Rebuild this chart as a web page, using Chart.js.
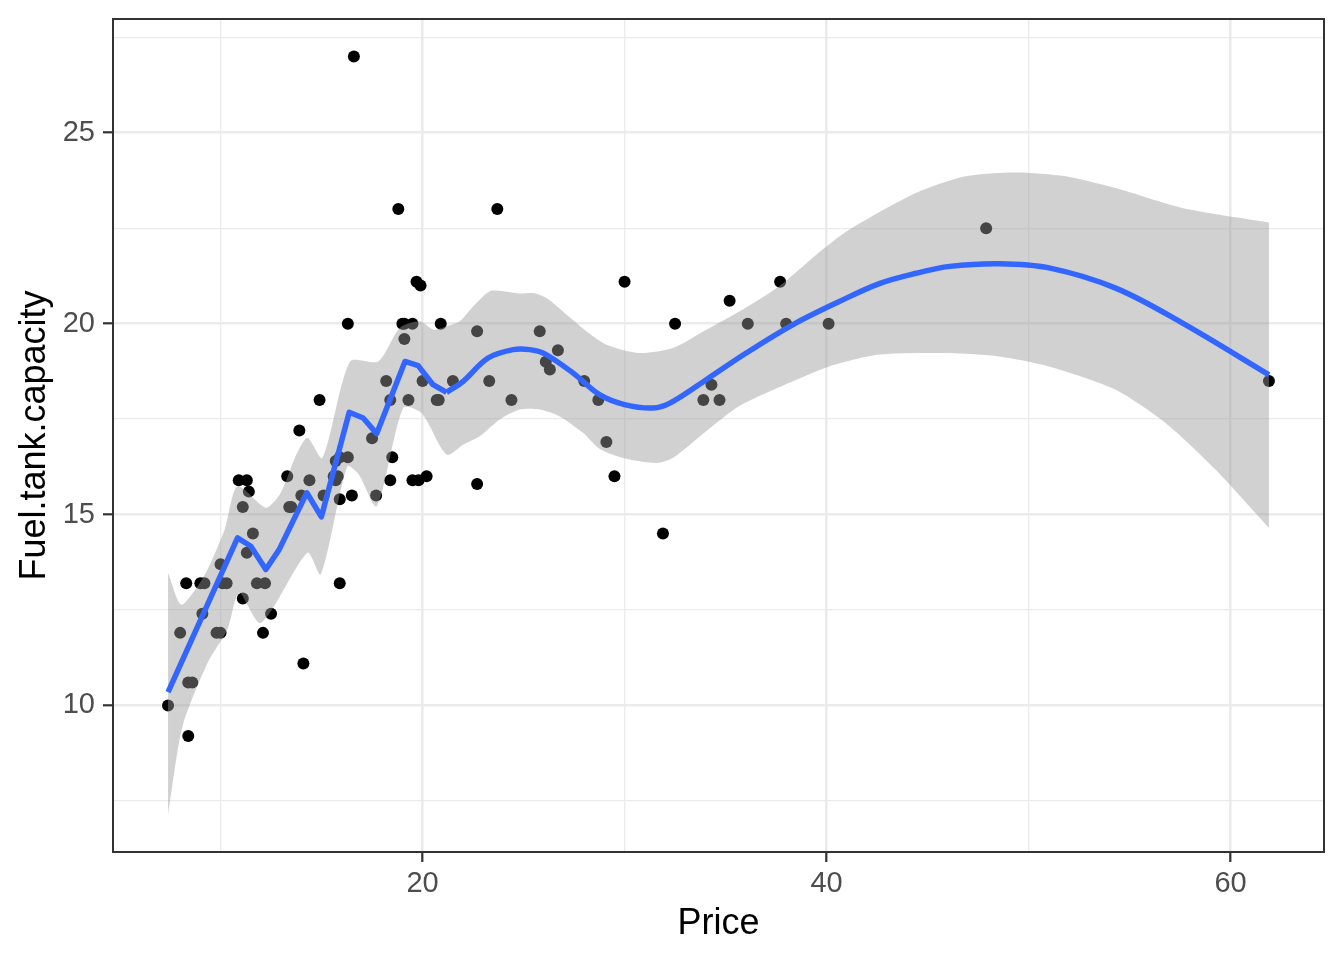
<!DOCTYPE html>
<html>
<head>
<meta charset="utf-8">
<title>Fuel.tank.capacity vs Price</title>
<script src="https://cdn.jsdelivr.net/npm/chart.js@4.4.1/dist/chart.umd.min.js"></script>
<style>
  html, body { margin: 0; padding: 0; background: #ffffff; }
  canvas { display: block; }
</style>
</head>
<body>
<canvas id="fuelChart" width="1344" height="960"></canvas>
<script>
'use strict';

// ***** DATA *****
const priceValues = [15.9, 33.9, 29.1, 37.7, 30.0, 15.7, 20.8, 23.7, 26.3, 34.7,
  40.1, 13.4, 11.4, 15.1, 15.9, 16.3, 16.6, 18.8, 38.0, 18.4,
  15.8, 29.5, 9.2, 11.3, 13.3, 19.0, 15.6, 25.8, 12.2, 19.3,
  7.4, 10.1, 11.3, 15.9, 14.0, 19.9, 20.2, 20.9, 8.4, 12.5,
  19.8, 12.1, 17.5, 8.0, 10.0, 10.0, 13.9, 47.9, 28.0, 35.2,
  34.3, 36.1, 8.3, 11.6, 16.5, 19.1, 32.5, 31.9, 61.9, 14.1,
  14.9, 10.3, 26.1, 11.8, 15.7, 19.1, 21.5, 13.5, 16.3, 19.5,
  20.7, 14.4, 9.0, 11.1, 17.7, 18.5, 24.4, 28.7, 11.1, 8.4,
  10.9, 19.5, 8.6, 9.8, 18.4, 18.2, 22.7, 9.1, 19.7, 20.0,
  23.3, 22.7, 26.7];
const fuelValues = [13.2, 18.0, 16.9, 21.1, 21.1, 16.4, 18.0, 23.0, 18.8, 18.0,
  20.0, 15.2, 15.6, 15.5, 16.5, 20.0, 27.0, 23.0, 20.0, 18.0,
  16.0, 16.0, 13.2, 14.0, 16.0, 20.0, 16.0, 19.8, 13.2, 18.0,
  10.0, 13.2, 15.9, 15.4, 15.5, 21.0, 16.0, 20.0, 10.6, 12.4,
  15.9, 11.9, 17.0, 11.9, 13.7, 11.9, 17.2, 22.5, 18.5, 20.6,
  18.4, 20.0, 13.2, 14.5, 15.5, 19.6, 20.0, 14.5, 18.5, 11.1,
  18.0, 13.2, 19.0, 13.2, 15.9, 20.0, 18.5, 15.2, 16.5, 20.0,
  18.0, 15.9, 13.2, 15.2, 15.5, 16.5, 18.0, 18.0, 12.8, 9.2,
  15.9, 15.9, 10.6, 11.9, 15.9, 18.5, 19.8, 12.4, 21.1, 18.5,
  18.5, 15.8, 19.3];

// smooth curve
const smoothX = [7.4, 10.84, 11.5, 12.24, 12.9, 14.27, 14.99, 16.37, 17.06, 17.73,
  19.13, 19.78, 20.52, 21.19, 22.01, 23.24, 24.48, 25.3, 26.05, 27.44,
  28.76, 30.0, 31.4, 32.22, 34.04, 36.02, 38.32, 40.63, 42.61, 44.42,
  46.1, 48.54, 51.01, 54.31, 57.6, 61.9];
const smoothY = [10.35, 14.39, 14.17, 13.56, 14.08, 15.57, 14.94, 17.68, 17.53, 17.12,
  19.01, 18.9, 18.4, 18.2, 18.49, 19.1, 19.32, 19.32, 19.21, 18.71,
  18.14, 17.88, 17.79, 17.91, 18.53, 19.23, 19.97, 20.58, 21.05, 21.32,
  21.5, 21.57, 21.46, 20.93, 20.02, 18.66];
// the curve is jagged left of this price and smooth to the right of it
const smoothBreak = 21.19;

// confidence band, upper edge
const bandUpperX = [7.4, 8.04, 8.7, 9.3, 10.2, 10.84, 12.24, 12.98, 13.72, 14.3,
  15.04, 16.41, 17.81, 18.88, 19.87, 20.53, 21.19, 21.84, 22.5, 23.33,
  23.98, 24.81, 25.47, 26.13, 27.12, 28.11, 29.1, 30.74, 32.39, 34.04,
  35.68, 37.66, 39.8, 41.12, 44.42, 46.89, 49.36, 51.83, 54.31, 57.6,
  61.9];
const bandUpperY = [13.47, 12.64, 13.0, 13.5, 14.6, 15.74, 15.18, 15.57, 16.53, 17.01,
  16.48, 19.01, 19.01, 19.89, 20.06, 19.84, 19.93, 20.06, 20.45, 20.85,
  20.85, 20.79, 20.8, 20.67, 20.24, 19.8, 19.45, 19.23, 19.36, 19.84,
  20.32, 20.98, 21.94, 22.46, 23.42, 23.86, 23.96, 23.86, 23.55, 23.03,
  22.65];

// confidence band, lower edge
const bandLowerX = [7.4, 8.12, 9.36, 10.34, 10.92, 11.99, 14.3, 14.96, 16.27, 16.84,
  17.73, 19.04, 19.95, 21.19, 22.01, 22.83, 23.82, 24.81, 25.8, 26.79,
  27.94, 28.76, 29.92, 31.57, 32.39, 34.04, 35.68, 38.16, 40.13, 42.61,
  46.07, 48.54, 51.01, 54.31, 56.78, 59.25, 61.9];
const bandLowerY = [7.15, 9.46, 11.12, 11.99, 12.95, 12.16, 14.0, 13.43, 16.26, 16.05,
  15.22, 17.79, 17.66, 16.57, 16.83, 17.05, 17.49, 17.75, 17.75, 17.57,
  17.14, 16.72, 16.48, 16.35, 16.48, 17.18, 17.84, 18.45, 18.88, 19.19,
  19.23, 19.14, 18.88, 18.27, 17.4, 16.18, 14.65];

// ***** TICKS *****
const xMajorTicks = [20, 40, 60];
const xMinorTicks = [10, 30, 50];
const yMajorTicks = [10, 15, 20, 25];
const yMinorTicks = [7.5, 12.5, 17.5, 22.5, 27.5];

// ***** HELPERS *****
function toPoints(xs, ys) {
  let pts = [];
  for (let i = 0; i < xs.length; i++) {
    pts.push({ x: xs[i], y: ys[i] });
  }
  return pts;
}

function tickList(majors, minors) {
  return majors.concat(minors).sort((a, b) => a - b).map(v => ({ value: v }));
}

const fontFamily = '"Liberation Sans", Arial, Helvetica, sans-serif';

function axisOptions(majors, minors, min, max, titleText, titlePadding, tickPadding) {
  return {
    type: 'linear',
    min: min,
    max: max,
    afterBuildTicks: (scale) => { scale.ticks = tickList(majors, minors); },
    border: { display: false },
    grid: {
      color: '#EBEBEB',
      lineWidth: (c) => majors.includes(c.tick && c.tick.value) ? 2.6 : 1.3,
      drawTicks: true,
      tickLength: 10,
      tickWidth: 2.2,
      tickColor: (c) => majors.includes(c.tick && c.tick.value) ? '#333333' : 'rgba(0,0,0,0)'
    },
    ticks: {
      autoSkip: false,
      maxRotation: 0,
      padding: tickPadding,
      color: '#4D4D4D',
      font: { family: fontFamily, size: 29 },
      callback: (value) => majors.includes(value) ? String(value) : ''
    },
    title: {
      display: true,
      text: titleText,
      color: '#000000',
      font: { family: fontFamily, size: 36 },
      padding: titlePadding
    }
  };
}

// panel border drawn on top, like theme_bw
const panelBorder = {
  id: 'panelBorder',
  afterDatasetsDraw(chart) {
    const a = chart.chartArea;
    const c = chart.ctx;
    c.save();
    c.strokeStyle = '#333333';
    c.lineWidth = 2;
    c.strokeRect(a.left, a.top, a.right - a.left, a.bottom - a.top);
    c.restore();
  }
};

// **** CHART ****
let ctx = document.getElementById('fuelChart').getContext('2d');

let xAxis = axisOptions(xMajorTicks, xMinorTicks, 4.675, 64.625, 'Price', { top: 0, bottom: 14 }, 5);
xAxis.afterFit = (scale) => {
  scale.height = 108;
  scale.paddingLeft = 0;
  scale.paddingRight = 0;
};

let yAxis = axisOptions(yMajorTicks, yMinorTicks, 6.16, 27.98, 'Fuel.tank.capacity', { top: 13, bottom: 0 }, 8);
yAxis.afterFit = (scale) => {
  scale.width = 113;
  scale.paddingTop = 0;
  scale.paddingBottom = 0;
};

let smoothPoints = toPoints(smoothX, smoothY);
let jaggedPart = smoothPoints.filter(p => p.x <= smoothBreak);
let curvedPart = smoothPoints.filter(p => p.x >= smoothBreak);

function smoothDataset(points, tension) {
  return {
    data: points,
    borderColor: '#3366FF',
    borderWidth: 5.5,
    borderJoinStyle: 'round',
    pointRadius: 0,
    tension: tension,
    fill: false,
    order: 0
  };
}

let chartObject = {
  type: 'line',
  data: {
    datasets: [
      smoothDataset(jaggedPart, 0),
      smoothDataset(curvedPart, 0.35),
      {
        label: 'upper',
        data: toPoints(bandUpperX, bandUpperY),
        borderWidth: 0,
        borderColor: 'rgba(0,0,0,0)',
        backgroundColor: 'rgba(153,153,153,0.45)',
        pointRadius: 0,
        tension: 0.25,
        fill: '+1',
        order: 1
      },
      {
        label: 'lower',
        data: toPoints(bandLowerX, bandLowerY),
        borderWidth: 0,
        borderColor: 'rgba(0,0,0,0)',
        pointRadius: 0,
        tension: 0.25,
        fill: false,
        order: 1
      },
      {
        label: 'cars',
        data: toPoints(priceValues, fuelValues),
        showLine: false,
        pointRadius: 6,
        pointBorderWidth: 0,
        pointBackgroundColor: '#000000',
        pointBorderColor: '#000000',
        order: 3
      }
    ]
  },
  options: {
    responsive: false,
    animation: false,
    devicePixelRatio: 1,
    layout: { padding: { left: 0, right: 20, top: 19, bottom: 0 } },
    plugins: {
      legend: { display: false },
      tooltip: { enabled: false }
    },
    scales: {
      x: xAxis,
      y: yAxis
    }
  },
  plugins: [panelBorder]
};

new Chart(ctx, chartObject);
</script>
</body>
</html>
